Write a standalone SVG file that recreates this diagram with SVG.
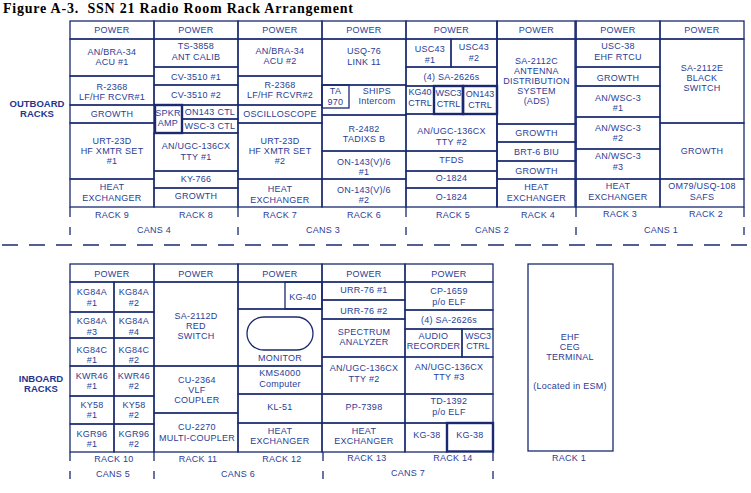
<svg xmlns="http://www.w3.org/2000/svg" width="751" height="493" viewBox="0 0 751 493">
<style>
.c{fill:none;stroke:#1b2a70;stroke-width:1.3}
.k{fill:none;stroke:#1b2a70;stroke-width:2.4}
.l{stroke:#1b2a70;stroke-width:1.3;fill:none}
text{font-family:"Liberation Sans",Arial,sans-serif;font-size:9px;fill:#2b3d96;text-anchor:middle;letter-spacing:0.25px}
.h{font-weight:bold;font-size:9.5px;fill:#1f3590;letter-spacing:0}
.ti{font-family:"Liberation Serif","Times New Roman",serif;font-weight:bold;font-size:14px;fill:#000;text-anchor:start;letter-spacing:0}
</style>
<rect width="751" height="493" fill="#fff"/>
<text class="ti" x="3" y="13" textLength="350" xml:space="preserve">Figure A-3.  SSN 21 Radio Room Rack Arrangement</text>
<text class="h" x="37" y="106.5">OUTBOARD</text>
<text class="h" x="37" y="117">RACKS</text>
<text class="h" x="41" y="381.5">INBOARD</text>
<text class="h" x="41" y="391.5">RACKS</text>

<g id="connectors">
<line class="l" x1="2" y1="245" x2="748" y2="245" stroke-dasharray="16 11"/>
<!-- top ticks -->
<path class="l" d="M70,207V217M238,207V217M406,207V217M576,207V217M744,207V217M70,227V235M238,227V235M406,227V235M576,227V235M744,227V235"/>
<!-- bottom ticks -->
<path class="l" d="M70,452V461M154,452V461M323,452V461M493,452V461M70,471V479M154,471V479M323,471V479M493,471V479"/>
</g>

<g id="rack9">
<rect class="c" x="70" y="21" width="84" height="18"/><text x="112" y="33.3">POWER</text>
<rect class="c" x="70" y="39" width="84" height="37"/><text x="112" y="55.3">AN/BRA-34<tspan x="112" dy="10">ACU #1</tspan></text>
<rect class="c" x="70" y="76" width="84" height="29"/><text x="112" y="90.3">R-2368<tspan x="112" dy="10">LF/HF RCVR#1</tspan></text>
<rect class="c" x="70" y="105" width="84" height="18"/><text x="112" y="117.3">GROWTH</text>
<rect class="c" x="70" y="123" width="84" height="56"/><text x="112" y="144.3">URT-23D<tspan x="112" dy="10">HF XMTR SET</tspan><tspan x="112" dy="10">#1</tspan></text>
<rect class="c" x="70" y="179" width="84" height="28"/><text x="112" y="190.3">HEAT<tspan x="112" dy="10.5">EXCHANGER</tspan></text>
<text x="112" y="218.3">RACK 9</text>
</g>

<g id="rack8">
<rect class="c" x="154" y="21" width="84" height="18"/><text x="196" y="33.3">POWER</text>
<rect class="c" x="154" y="39" width="84" height="28"/><text x="196" y="49.3">TS-3858<tspan x="196" dy="10.5">ANT CALIB</tspan></text>
<rect class="c" x="154" y="67" width="84" height="18"/><text x="196" y="80.3">CV-3510 #1</text>
<rect class="c" x="154" y="85" width="84" height="20"/><text x="196" y="98.3">CV-3510 #2</text>
<rect class="c" x="182" y="105" width="56" height="14"/><text x="210" y="115.3">ON143 CTL</text>
<rect class="c" x="182" y="119" width="56" height="14"/><text x="210" y="129.3">WSC-3 CTL</text>
<rect class="k" x="155" y="105" width="27" height="28"/><text x="168" y="116">SPKR<tspan x="168" dy="10">AMP</tspan></text>
<rect class="c" x="154" y="133" width="84" height="38"/><text x="196" y="149.3">AN/UGC-136CX<tspan x="196" dy="11">TTY #1</tspan></text>
<rect class="c" x="154" y="171" width="84" height="17"/><text x="196" y="182.3">KY-766</text>
<rect class="c" x="154" y="188" width="84" height="19"/><text x="196" y="199.3">GROWTH</text>
<text x="196" y="218.3">RACK 8</text>
</g>

<g id="rack7">
<rect class="c" x="238" y="21" width="84" height="18"/><text x="280" y="33.3">POWER</text>
<rect class="c" x="238" y="39" width="84" height="37"/><text x="280" y="54.3">AN/BRA-34<tspan x="280" dy="10">ACU #2</tspan></text>
<rect class="c" x="238" y="76" width="84" height="29"/><text x="280" y="88.3">R-2368<tspan x="280" dy="10">LF/HF RCVR#2</tspan></text>
<rect class="c" x="238" y="105" width="84" height="18"/><text x="280" y="117.3">OSCILLOSCOPE</text>
<rect class="c" x="238" y="123" width="84" height="56"/><text x="280" y="144.3">URT-23D<tspan x="280" dy="10">HF XMTR SET</tspan><tspan x="280" dy="10">#2</tspan></text>
<rect class="c" x="238" y="179" width="84" height="28"/><text x="280" y="192">HEAT<tspan x="280" dy="10.5">EXCHANGER</tspan></text>
<text x="280" y="218.3">RACK 7</text>
</g>

<g id="rack6">
<rect class="c" x="322" y="21" width="84" height="18"/><text x="364" y="33.3">POWER</text>
<rect class="c" x="322" y="39" width="84" height="46"/><text x="364" y="54.3">USQ-76<tspan x="364" dy="11">LINK 11</tspan></text>
<rect class="c" x="322" y="85" width="84" height="30"/>
<rect class="c" x="322" y="85" width="27" height="23"/><text x="335.5" y="94.3">TA<tspan x="335.5" dy="11">970</tspan></text>
<text x="377" y="94.3">SHIPS<tspan x="377" dy="10">Intercom</tspan></text>
<rect class="c" x="322" y="115" width="84" height="36"/><text x="364" y="132.3">R-2482<tspan x="364" dy="10">TADIXS B</tspan></text>
<rect class="c" x="322" y="151" width="84" height="28"/><text x="364" y="165.3">ON-143(V)/6<tspan x="364" dy="10">#1</tspan></text>
<rect class="c" x="322" y="179" width="84" height="28"/><text x="364" y="193.3">ON-143(V)/6<tspan x="364" dy="10">#2</tspan></text>
<text x="364" y="218.3">RACK 6</text>
</g>

<g id="rack5">
<rect class="c" x="406" y="21" width="91" height="18"/><text x="451.5" y="33.3">POWER</text>
<rect class="c" x="406" y="39" width="45" height="28"/><text x="430" y="52.3">USC43<tspan x="430" dy="11">#1</tspan></text>
<rect class="c" x="451" y="39" width="46" height="28"/><text x="474" y="50.3">USC43<tspan x="474" dy="11">#2</tspan></text>
<rect class="c" x="406" y="67" width="91" height="19"/><text x="451.5" y="80">(4) SA-2626s</text>
<rect class="c" x="406" y="86" width="28" height="28"/><text x="420" y="95.3" style="letter-spacing:0">KG40<tspan x="420" dy="11">CTRL</tspan></text>
<rect class="k" x="434" y="86" width="29" height="28"/><text x="448.5" y="96.3" style="letter-spacing:0">WSC3<tspan x="448.5" dy="11">CTRL</tspan></text>
<rect class="k" x="463" y="86" width="34" height="28"/><text x="480" y="97.3" style="letter-spacing:0">ON143<tspan x="480" dy="11">CTRL</tspan></text>
<rect class="c" x="406" y="114" width="91" height="37"/><text x="451.5" y="134.3">AN/UGC-136CX<tspan x="451.5" dy="11">TTY #2</tspan></text>
<rect class="c" x="406" y="151" width="91" height="20"/><text x="451.5" y="162.8">TFDS</text>
<rect class="c" x="406" y="171" width="91" height="17"/><text x="451.5" y="181.3">O-1824</text>
<rect class="c" x="406" y="188" width="91" height="19"/><text x="451.5" y="200.3">O-1824</text>
<text x="453" y="218.3">RACK 5</text>
</g>

<g id="rack4">
<rect class="c" x="497" y="21" width="79" height="18"/><text x="536.5" y="33.3">POWER</text>
<rect class="c" x="497" y="39" width="79" height="85"/><text x="536.5" y="64.3">SA-2112C<tspan x="536.5" dy="10">ANTENNA</tspan><tspan x="536.5" dy="10">DISTRIBUTION</tspan><tspan x="536.5" dy="10">SYSTEM</tspan><tspan x="536.5" dy="10">(ADS)</tspan></text>
<rect class="c" x="497" y="124" width="79" height="18"/><text x="536.5" y="136.3">GROWTH</text>
<rect class="c" x="497" y="142" width="79" height="19"/><text x="536.5" y="155.3">BRT-6 BIU</text>
<rect class="c" x="497" y="161" width="79" height="18"/><text x="536.5" y="174.3">GROWTH</text>
<rect class="c" x="497" y="179" width="79" height="28"/><text x="536.5" y="190.3">HEAT<tspan x="536.5" dy="11">EXCHANGER</tspan></text>
<line class="l" x1="497" y1="21" x2="497" y2="207" stroke-width="2.6"/>
<line class="l" x1="575" y1="21" x2="575" y2="207" stroke-width="3"/>
<text x="538" y="218.3">RACK 4</text>
</g>

<g id="rack3">
<rect class="c" x="576" y="21" width="84" height="18"/><text x="618" y="33.3">POWER</text>
<rect class="c" x="576" y="39" width="84" height="28"/><text x="618" y="49.3">USC-38<tspan x="618" dy="11">EHF RTCU</tspan></text>
<rect class="c" x="576" y="67" width="84" height="19"/><text x="618" y="80.5">GROWTH</text>
<rect class="c" x="576" y="86" width="84" height="31"/><text x="618" y="101.3">AN/WSC-3<tspan x="618" dy="10">#1</tspan></text>
<rect class="c" x="576" y="117" width="84" height="32"/><text x="618" y="131.3">AN/WSC-3<tspan x="618" dy="10">#2</tspan></text>
<rect class="c" x="576" y="149" width="84" height="30"/><text x="618" y="159.3">AN/WSC-3<tspan x="618" dy="11">#3</tspan></text>
<rect class="c" x="576" y="179" width="84" height="28"/><text x="618" y="189.3">HEAT<tspan x="618" dy="11">EXCHANGER</tspan></text>
<text x="620" y="217.3">RACK 3</text>
</g>

<g id="rack2">
<rect class="c" x="660" y="21" width="84" height="18"/><text x="702" y="33.3">POWER</text>
<rect class="c" x="660" y="39" width="84" height="84"/><text x="702" y="71.3">SA-2112E<tspan x="702" dy="10">BLACK</tspan><tspan x="702" dy="10">SWITCH</tspan></text>
<rect class="c" x="660" y="123" width="84" height="56"/><text x="702" y="154.3">GROWTH</text>
<rect class="c" x="660" y="179" width="84" height="28"/><text x="702" y="189.3">OM79/USQ-108<tspan x="702" dy="11">SAFS</tspan></text>
<text x="706" y="217.3">RACK 2</text>
</g>

<g id="cans-top">
<text x="154" y="233.3">CANS 4</text>
<text x="323" y="233.3">CANS 3</text>
<text x="492" y="233.3">CANS 2</text>
<text x="661" y="233.3">CANS 1</text>
</g>

<g id="rack10">
<rect class="c" x="70" y="264" width="84" height="18"/><text x="112" y="277.3">POWER</text>
<rect class="c" x="70" y="282" width="44" height="30"/><text x="92" y="295.3">KG84A<tspan x="92" dy="11">#1</tspan></text>
<rect class="c" x="114" y="282" width="40" height="30"/><text x="134" y="295.3">KG84A<tspan x="134" dy="11">#2</tspan></text>
<rect class="c" x="70" y="312" width="44" height="26"/><text x="92" y="324.3">KG84A<tspan x="92" dy="11">#3</tspan></text>
<rect class="c" x="114" y="312" width="40" height="26"/><text x="134" y="324.3">KG84A<tspan x="134" dy="11">#4</tspan></text>
<rect class="c" x="70" y="338" width="44" height="28"/><text x="92" y="353">KG84C<tspan x="92" dy="10">#1</tspan></text>
<rect class="c" x="114" y="338" width="40" height="28"/><text x="134" y="353">KG84C<tspan x="134" dy="10">#2</tspan></text>
<rect class="c" x="70" y="366" width="44" height="30"/><text x="92" y="379.3">KWR46<tspan x="92" dy="10">#1</tspan></text>
<rect class="c" x="114" y="366" width="40" height="30"/><text x="134" y="379.3">KWR46<tspan x="134" dy="10">#2</tspan></text>
<rect class="c" x="70" y="396" width="44" height="28"/><text x="92" y="408.3">KY58<tspan x="92" dy="10">#1</tspan></text>
<rect class="c" x="114" y="396" width="40" height="28"/><text x="134" y="408.3">KY58<tspan x="134" dy="10">#2</tspan></text>
<rect class="c" x="70" y="424" width="44" height="28"/><text x="92" y="437.3">KGR96<tspan x="92" dy="10">#1</tspan></text>
<rect class="c" x="114" y="424" width="40" height="28"/><text x="134" y="437.3">KGR96<tspan x="134" dy="10">#2</tspan></text>
<text x="114" y="462.3">RACK 10</text>
</g>

<g id="rack11">
<rect class="c" x="154" y="264" width="84" height="18"/><text x="196" y="277.3">POWER</text>
<rect class="c" x="154" y="282" width="84" height="84"/><text x="196" y="319.3">SA-2112D<tspan x="196" dy="10">RED</tspan><tspan x="196" dy="10">SWITCH</tspan></text>
<rect class="c" x="154" y="366" width="84" height="47"/><text x="197" y="383.3">CU-2364<tspan x="197" dy="10">VLF</tspan><tspan x="197" dy="10">COUPLER</tspan></text>
<rect class="c" x="154" y="413" width="84" height="39"/><text x="197" y="430.3">CU-2270<tspan x="197" dy="10.5">MULTI-COUPLER</tspan></text>
<text x="198" y="462.3">RACK 11</text>
</g>

<g id="rack12">
<rect class="c" x="238" y="264" width="84" height="18"/><text x="280" y="277.3">POWER</text>
<rect class="c" x="238" y="282" width="84" height="27"/>
<rect class="c" x="285" y="282" width="37" height="27"/><text x="303" y="300.3">KG-40</text>
<rect class="c" x="238" y="309" width="84" height="57"/>
<rect class="c" x="247" y="317" width="66" height="33" rx="16.5" ry="16.5"/>
<text x="280" y="361.3">MONITOR</text>
<rect class="c" x="238" y="366" width="84" height="28"/><text x="280" y="376.3">KMS4000<tspan x="280" dy="11">Computer</tspan></text>
<rect class="c" x="238" y="394" width="84" height="29"/><text x="280" y="410.3">KL-51</text>
<rect class="c" x="238" y="423" width="84" height="29"/><text x="280" y="434.3">HEAT<tspan x="280" dy="10">EXCHANGER</tspan></text>
<text x="282" y="462.3">RACK 12</text>
</g>

<g id="rack13">
<rect class="c" x="322" y="264" width="83" height="18"/><text x="364" y="277.3">POWER</text>
<rect class="c" x="322" y="282" width="83" height="18"/><text x="364" y="293.3">URR-76 #1</text>
<rect class="c" x="322" y="300" width="83" height="19"/><text x="364" y="313.5">URR-76 #2</text>
<rect class="c" x="322" y="319" width="83" height="38"/><text x="364" y="335.3">SPECTRUM<tspan x="364" dy="10">ANALYZER</tspan></text>
<rect class="c" x="322" y="357" width="83" height="37"/><text x="364" y="371.3">AN/UGC-136CX<tspan x="364" dy="11">TTY #2</tspan></text>
<rect class="c" x="322" y="394" width="83" height="29"/><text x="364" y="410.3">PP-7398</text>
<rect class="c" x="322" y="423" width="83" height="29"/><text x="364" y="434.3">HEAT<tspan x="364" dy="10">EXCHANGER</tspan></text>
<text x="367" y="461.3">RACK 13</text>
</g>

<g id="rack14">
<rect class="c" x="405" y="264" width="88" height="18"/><text x="449" y="277.3">POWER</text>
<rect class="c" x="405" y="282" width="88" height="28"/><text x="449" y="294.3">CP-1659<tspan x="449" dy="11">p/o ELF</tspan></text>
<rect class="c" x="405" y="310" width="88" height="19"/><text x="449" y="323.3">(4) SA-2626s</text>
<rect class="c" x="405" y="329" width="57" height="28"/><text x="433.5" y="339.3">AUDIO<tspan x="433.5" dy="10">RECORDER</tspan></text>
<rect class="c" x="462" y="329" width="31" height="28"/><text x="478" y="339.3" style="letter-spacing:0">WSC3<tspan x="478" dy="10">CTRL</tspan></text>
<rect class="c" x="405" y="357" width="88" height="37"/><text x="449" y="370.3">AN/UGC-136CX<tspan x="449" dy="10">TTY #3</tspan></text>
<rect class="c" x="405" y="394" width="88" height="29"/><text x="449" y="404.3">TD-1392<tspan x="449" dy="11">p/o ELF</tspan></text>
<rect class="c" x="405" y="423" width="42" height="29"/><text x="427" y="438.3">KG-38</text>
<rect class="k" x="447" y="423" width="46" height="28.5"/><text x="470" y="438.3">KG-38</text>
<text x="453" y="461.3">RACK 14</text>
</g>

<g id="rack1">
<rect class="c" x="528" y="264" width="85" height="187"/>
<text x="570" y="340.3">EHF<tspan x="570" dy="10">CEG</tspan><tspan x="570" dy="10">TERMINAL</tspan></text>
<text x="570" y="389.3">(Located in ESM)</text>
<text x="569" y="461.3">RACK 1</text>
</g>

<g id="cans-bottom">
<text x="113" y="477.3">CANS 5</text>
<text x="238" y="477.3">CANS 6</text>
<text x="408" y="476.3">CANS 7</text>
</g>
</svg>
